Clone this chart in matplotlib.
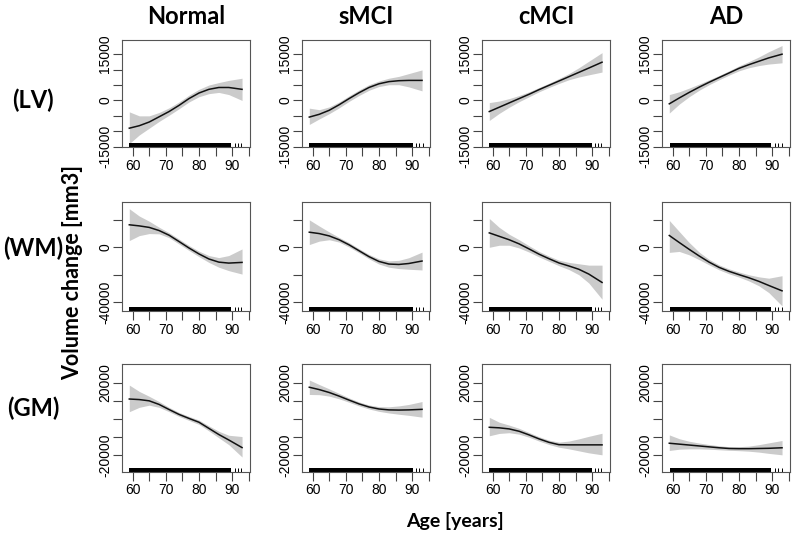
import matplotlib.pyplot as plt

# groups / regions
groups = ["Normal", "sMCI", "cMCI", "AD"]
regions = ["(LV)", "(WM)", "(GM)"]

# age grid of the fitted smooths (years)
ages = [59, 62, 65, 68, 71, 74, 77, 80, 83, 86, 89, 93]

# fitted volume change, thousand mm3 (fit, lower, upper)
lv_normal_fit = [-9.0, -8.2, -7.0, -5.3, -3.6, -1.6, 0.6, 2.4, 3.6, 4.2, 4.2, 3.6]
lv_normal_lo = [-14.0, -11.2, -9.0, -6.8, -4.8, -2.7, -0.5, 1.2, 2.2, 2.6, 1.9, 0.0]
lv_normal_hi = [-3.7, -5.0, -5.0, -3.9, -2.4, -0.5, 1.7, 3.6, 5.0, 5.8, 6.5, 7.2]

lv_smci_fit = [-5.4, -4.5, -3.2, -1.4, 0.6, 2.5, 4.2, 5.4, 6.1, 6.4, 6.5, 6.5]
lv_smci_lo = [-7.8, -6.0, -4.3, -2.4, -0.3, 1.6, 3.3, 4.5, 5.1, 5.1, 4.4, 3.1]
lv_smci_hi = [-2.5, -3.0, -2.1, -0.5, 1.5, 3.4, 5.1, 6.3, 7.2, 7.8, 8.7, 9.9]

lv_cmci_fit = [-3.6, -2.2, -0.8, 0.6, 2.0, 3.5, 4.9, 6.3, 7.7, 9.1, 10.5, 12.4]
lv_cmci_lo = [-6.5, -4.2, -2.2, -0.4, 1.2, 2.8, 4.2, 5.5, 6.7, 7.6, 8.3, 9.2]
lv_cmci_hi = [-0.7, -0.2, 0.6, 1.6, 2.8, 4.2, 5.6, 7.1, 8.7, 10.6, 12.7, 15.5]

lv_ad_fit = [-1.1, 0.8, 2.6, 4.3, 5.9, 7.4, 8.9, 10.4, 11.6, 12.7, 13.8, 15.0]
lv_ad_lo = [-4.1, -1.2, 1.2, 3.3, 5.1, 6.7, 8.2, 9.6, 10.6, 11.3, 11.8, 12.2]
lv_ad_hi = [1.9, 2.8, 4.0, 5.3, 6.7, 8.1, 9.6, 11.2, 12.6, 14.1, 15.8, 17.8]

wm_normal_fit = [16.4, 15.6, 14.5, 12.2, 8.8, 4.2, -0.5, -4.8, -8.5, -10.8, -11.5, -11.0]
wm_normal_lo = [4.9, 8.5, 10.0, 9.8, 7.0, 2.4, -2.3, -6.8, -11.0, -14.5, -17.0, -19.5]
wm_normal_hi = [28.1, 22.8, 19.0, 14.6, 10.6, 6.0, 1.3, -2.8, -6.0, -7.5, -6.0, -1.2]

wm_smci_fit = [11.0, 10.0, 8.3, 5.5, 1.8, -2.5, -6.8, -10.3, -12.2, -12.5, -11.8, -10.0]
wm_smci_lo = [2.0, 4.5, 5.5, 3.8, 0.2, -4.0, -8.4, -12.2, -14.5, -15.5, -16.0, -16.5]
wm_smci_hi = [20.0, 15.5, 11.2, 7.2, 3.4, -1.0, -5.2, -8.4, -9.9, -9.5, -7.6, -3.5]

wm_cmci_fit = [10.5, 8.0, 5.5, 2.5, -1.2, -5.0, -8.3, -11.4, -13.6, -16.0, -19.5, -25.6]
wm_cmci_lo = [0.0, 1.5, 1.5, -0.5, -3.5, -7.0, -10.2, -13.4, -16.2, -20.0, -26.0, -37.8]
wm_cmci_hi = [21.0, 14.5, 9.5, 5.5, 1.1, -3.0, -6.4, -9.4, -11.0, -12.0, -13.0, -13.0]

wm_ad_fit = [8.6, 3.5, -1.5, -6.3, -10.8, -14.6, -17.5, -19.9, -22.2, -24.8, -27.8, -31.7]
wm_ad_lo = [-3.7, -3.0, -5.5, -9.0, -12.8, -16.4, -19.3, -21.7, -24.5, -28.0, -33.0, -42.7]
wm_ad_hi = [19.6, 11.5, 3.5, -3.5, -8.8, -12.8, -15.7, -18.0, -20.0, -21.5, -22.5, -20.7]

gm_normal_fit = [11.0, 10.7, 10.0, 8.0, 5.2, 2.5, 0.3, -1.8, -5.2, -8.6, -11.6, -15.8]
gm_normal_lo = [4.0, 6.4, 7.6, 6.4, 4.0, 1.4, -0.8, -3.0, -6.6, -10.4, -14.2, -21.0]
gm_normal_hi = [18.7, 15.2, 12.5, 9.6, 6.4, 3.6, 1.4, -0.6, -3.8, -6.8, -9.0, -9.7]

gm_smci_fit = [17.5, 16.2, 14.6, 12.6, 10.4, 8.3, 6.6, 5.5, 5.0, 4.9, 5.0, 5.3]
gm_smci_lo = [13.5, 13.4, 12.6, 11.1, 9.2, 7.2, 5.5, 4.2, 3.3, 2.6, 2.0, 1.0]
gm_smci_hi = [21.5, 19.0, 16.6, 14.1, 11.6, 9.4, 7.7, 6.8, 6.7, 7.2, 8.0, 9.6]

gm_cmci_fit = [-4.6, -4.9, -5.5, -6.8, -8.8, -11.0, -12.9, -14.2, -14.3, -14.3, -14.3, -14.3]
gm_cmci_lo = [-9.3, -8.0, -7.6, -8.4, -10.1, -12.2, -14.1, -15.6, -16.5, -17.6, -18.7, -19.8]
gm_cmci_hi = [0.9, -1.8, -3.4, -5.2, -7.5, -9.8, -11.7, -12.8, -12.2, -11.0, -9.6, -7.9]

gm_ad_fit = [-13.4, -13.9, -14.4, -14.9, -15.4, -15.9, -16.3, -16.4, -16.4, -16.3, -16.2, -15.9]
gm_ad_lo = [-17.4, -16.7, -16.5, -16.5, -16.7, -17.0, -17.3, -17.5, -17.8, -18.3, -19.0, -19.8]
gm_ad_hi = [-8.8, -10.9, -12.3, -13.3, -14.1, -14.8, -15.3, -15.3, -15.0, -14.2, -13.2, -11.9]

# rug of subject ages per group: solid dense span + a few isolated old subjects
rug_dense = [(59.0, 89.7), (59.0, 90.2), (59.0, 90.1), (59.3, 89.6)]
rug_sparse = [[90.9, 91.7, 92.7], [91.1, 92.1, 93.2], [90.8, 91.8, 92.8], [90.9, 91.9, 92.9]]

# y axis per row: ticks and which ones are labelled
y_ticks = [[-15000, -10000, -5000, 0, 5000, 10000, 15000],
           [-40000, -20000, 0, 20000],
           [-20000, -10000, 0, 10000, 20000]]
y_labels = [["-15000", "", "", "0", "", "", "15000"],
            ["-40000", "", "0", ""],
            ["-20000", "", "", "", "20000"]]
y_lims = [(-15100, 19600), (-46400, 33000), (-29000, 30600)]

x_ticks = [60, 65, 70, 75, 80, 85, 90, 95]
x_labels = ["60", "", "70", "", "80", "", "90", ""]

panels = [
    [(lv_normal_fit, lv_normal_lo, lv_normal_hi), (lv_smci_fit, lv_smci_lo, lv_smci_hi),
     (lv_cmci_fit, lv_cmci_lo, lv_cmci_hi), (lv_ad_fit, lv_ad_lo, lv_ad_hi)],
    [(wm_normal_fit, wm_normal_lo, wm_normal_hi), (wm_smci_fit, wm_smci_lo, wm_smci_hi),
     (wm_cmci_fit, wm_cmci_lo, wm_cmci_hi), (wm_ad_fit, wm_ad_lo, wm_ad_hi)],
    [(gm_normal_fit, gm_normal_lo, gm_normal_hi), (gm_smci_fit, gm_smci_lo, gm_smci_hi),
     (gm_cmci_fit, gm_cmci_lo, gm_cmci_hi), (gm_ad_fit, gm_ad_lo, gm_ad_hi)],
]

W, H = 800, 541
fig = plt.figure(figsize=(W / 100, H / 100), dpi=100)

col_left = [122, 302, 482, 662]
col_w = 128
row_top = [40, 202, 363.5]
row_h = [107, 109, 108]

tick_font = dict(family="Liberation Sans", size=10)
bold_font = ["Lato", "DejaVu Sans"]

for r in range(3):
    for c in range(4):
        ax = fig.add_axes([col_left[c] / W, 1 - (row_top[r] + row_h[r]) / H,
                           col_w / W, row_h[r] / H])
        fit, lo, hi = panels[r][c]
        ax.fill_between(ages, [v * 1000 for v in lo], [v * 1000 for v in hi],
                        color="#cbcbcb", lw=0)
        ax.plot(ages, [v * 1000 for v in fit], color="#111111", lw=1.1)

        # rug
        a0, a1 = rug_dense[c]
        ax.axvspan(a0, a1, ymin=0, ymax=0.035, color="black", lw=0)
        ax.vlines(rug_sparse[c], 0, 0.035, transform=ax.get_xaxis_transform(),
                  color="black", lw=0.7)

        ax.set_xlim(56.8, 95.4)
        ax.set_ylim(*y_lims[r])
        ax.set_xticks(x_ticks)
        ax.set_xticklabels(x_labels, **tick_font)
        ax.set_yticks(y_ticks[r])
        ax.set_yticklabels(y_labels[r], **tick_font, rotation=90, va="center")
        ax.tick_params(length=6.5, width=0.8, color="#444444", pad=2)
        ax.tick_params(axis="y", pad=0.5)
        for sp in ax.spines.values():
            sp.set_color("#555555")
            sp.set_linewidth(0.8)

for c, g in enumerate(groups):
    fig.text((col_left[c] + col_w / 2) / W, 1 - 17 / H, g, ha="center", va="center",
             family=bold_font, weight="bold", size=17)

for r, name in enumerate(regions):
    fig.text(33 / W, 1 - [100, 248, 408][r] / H, name, ha="center", va="center",
             family=bold_font, weight="bold", size=17)

fig.text(73 / W, 1 - 272 / H, "Volume change [mm3]", rotation=90, ha="center",
         va="center", family=bold_font, weight="bold", size=15.5)
fig.text(455 / W, 1 - 521 / H, "Age [years]", ha="center", va="center",
         family=bold_font, weight="bold", size=14)

fig.savefig("out.png", dpi=100)
